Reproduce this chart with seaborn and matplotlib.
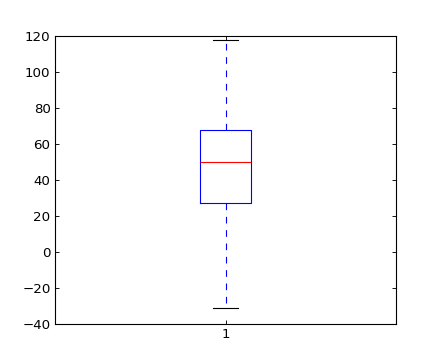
import matplotlib
matplotlib.use("Agg")
import matplotlib.pyplot as plt
import seaborn as sns
import pandas as pd

# Data: five summary points
group_labels = ["1", "1", "1", "1", "1"]
values = [-31.3, 27.2, 50.0, 67.6, 117.6]
y_ticks = [-40, -20, 0, 20, 40, 60, 80, 100, 120]

plt.rcParams.update({
    "font.family": ["DejaVu Sans"],
    "font.size": 12,
    "xtick.direction": "in",
    "ytick.direction": "in",
    "xtick.top": True,
    "ytick.right": True,
    "xtick.major.size": 4,
    "ytick.major.size": 4,
    "xtick.major.pad": 4,
    "ytick.major.pad": 4,
    "xtick.labelsize": 12,
    "ytick.labelsize": 12,
    "axes.linewidth": 1.0,
    "lines.dashed_pattern": [6, 6],
})

df = pd.DataFrame({"group": group_labels, "value": values})

fig = plt.figure(figsize=(5.5, 4.5), dpi=80)
ax = fig.add_axes([0.125, 0.1, 0.775, 0.8])

sns.boxplot(
    data=df, x="group", y="value", ax=ax,
    fill=False, width=0.15, whis=1.5, linewidth=1.0,
    boxprops=dict(color="blue", linewidth=1.0),
    medianprops=dict(color="red", linewidth=1.0),
    whiskerprops=dict(color="blue", linestyle=(0, (6, 6)), linewidth=1.0),
    capprops=dict(color="black", linewidth=1.0),
    flierprops=dict(marker="+", markeredgecolor="blue"),
)

ax.set_xlim(-0.5, 0.5)
ax.set_ylim(-40, 120)
ax.set_yticks(y_ticks)
ax.set_yticklabels([f"{t}".replace("-", "\u2212") for t in y_ticks])
ax.set_xlabel("")
ax.set_ylabel("")
for s in ax.spines.values():
    s.set_visible(True)
    s.set_color("black")
    s.set_linewidth(1.0)
ax.tick_params(which="both", top=True, right=True, direction="in", length=4, color="black", labelcolor="black")

fig.savefig("out.png", dpi=80, facecolor="white")
